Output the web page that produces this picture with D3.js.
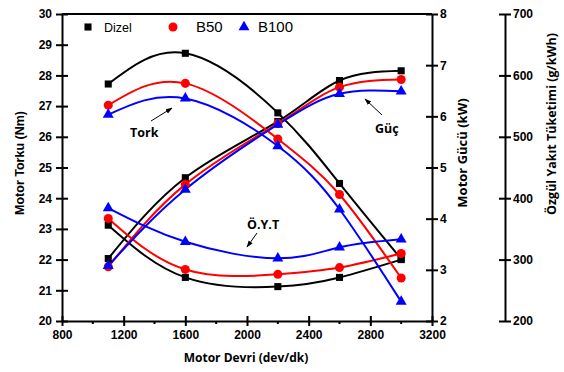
<!DOCTYPE html>
<html><head><meta charset="utf-8">
<script src="https://cdn.jsdelivr.net/npm/d3@7/dist/d3.min.js"></script>
<style>
body{margin:0;background:#fff;}
svg{display:block;}
text{font-family:Arial,"Liberation Sans",sans-serif;}
</style></head>
<body><svg id="c" width="564" height="372"></svg>
<script>
const rpm = [1100, 1600, 2200, 2600, 3000];
const torqueDizel = [27.72, 28.72, 26.78, 24.48, 22.02];
const torqueB50   = [27.03, 27.74, 25.93, 24.12, 21.40];
const torqueB100  = [26.72, 27.25, 25.70, 23.64, 20.63];
const powerDizel = [3.22, 4.80, 5.90, 6.70, 6.89];
const powerB50   = [3.06, 4.67, 5.86, 6.57, 6.72];
const powerB100  = [3.08, 4.57, 5.84, 6.44, 6.49];
const oytDizel = [356, 271, 256, 271, 300];
const oytB50   = [367, 284, 276, 287, 310];
const oytB100  = [384, 329, 302, 320, 333];
const fuels = ["Dizel", "B50", "B100"];
const colors = ["#000000", "#ff0000", "#0000ff"];
const xTicks = [800, 1200, 1600, 2000, 2400, 2800, 3200];
const xMinorTicks = [1000, 1400, 1800, 2200, 2600, 3000];
const torqueTicks = [20, 21, 22, 23, 24, 25, 26, 27, 28, 29, 30];
const powerTicks = [2, 3, 4, 5, 6, 7, 8];
const oytTicks = [200, 300, 400, 500, 600, 700];

const svg = d3.select("#c");
const L = 62, R = 432, T = 14, B = 321;
const x = d3.scaleLinear().domain([800, 3200]).range([L, R]);
const yT = d3.scaleLinear().domain([20, 30]).range([B, T]);
const yP = d3.scaleLinear().domain([2, 8]).range([B, T]);
const yO = d3.scaleLinear().domain([200, 700]).range([B, T]);

const tickFont = 'bold 12px Arial, "Liberation Sans", sans-serif';
function styleAxis(g){
  g.selectAll("path.domain").attr("stroke","#000").attr("stroke-width",2);
  g.selectAll(".tick line").attr("stroke","#000").attr("stroke-width",2);
  g.selectAll(".tick text").style("font", tickFont).attr("fill","#000");
}
// top border
svg.append("line").attr("x1",L).attr("x2",R).attr("y1",T).attr("y2",T).attr("stroke","#000").attr("stroke-width",2);

// bottom axis
const gx = svg.append("g").attr("transform",`translate(0,${B})`)
  .call(d3.axisBottom(x).tickValues(xTicks).tickFormat(d3.format("d")).tickSizeInner(5).tickSizeOuter(0).tickPadding(4));
styleAxis(gx);
gx.selectAll(".tick line").attr("y1",-5);
svg.append("g").attr("transform",`translate(0,${B})`)
  .selectAll("line").data(xMinorTicks).join("line")
  .attr("x1",d=>x(d)).attr("x2",d=>x(d)).attr("y1",0).attr("y2",3)
  .attr("stroke","#000").attr("stroke-width",2);

// left axis
const gyl = svg.append("g").attr("transform",`translate(${L},0)`)
  .call(d3.axisLeft(yT).tickValues(torqueTicks).tickFormat(d3.format("d")).tickSizeInner(6).tickSizeOuter(0).tickPadding(4));
styleAxis(gyl);
gyl.selectAll(".tick line").attr("x1",6);

// right axis power
const gyp = svg.append("g").attr("transform",`translate(${R},0)`)
  .call(d3.axisRight(yP).tickValues(powerTicks).tickFormat(d3.format("d")).tickSizeInner(6).tickSizeOuter(0).tickPadding(2));
styleAxis(gyp);
gyp.selectAll(".tick line").attr("x1",-6);

// far right axis OYT
const OX = 505;
const gyo = svg.append("g").attr("transform",`translate(${OX},0)`)
  .call(d3.axisRight(yO).tickValues(oytTicks).tickFormat(d3.format("d")).tickSizeInner(6).tickSizeOuter(0).tickPadding(2));
styleAxis(gyo);
gyo.selectAll(".tick line").attr("x1",-6);

// axis titles
svg.append("text").attr("transform","translate(24,163) rotate(-90)").attr("text-anchor","middle")
  .style("font",'bold 12.5px Arial, "Liberation Sans", sans-serif').text("Motor Torku (Nm)");
svg.append("text").attr("x",246).attr("y",362).attr("text-anchor","middle")
  .style("font",'bold 12px "Open Sans", sans-serif').text("Motor Devri (dev/dk)");
svg.append("text").attr("transform","translate(467,153) rotate(-90)").attr("text-anchor","middle")
  .style("font",'bold 13px "Open Sans", sans-serif').text("Motor Gücü (kW)");
svg.append("text").attr("transform","translate(556,124) rotate(-90)").attr("text-anchor","middle")
  .style("font",'bold 12.5px "Open Sans", sans-serif').text("Özgül Yakıt Tüketimi (g/kWh)");

// series
const groups = [
  {y: yT, data: [torqueDizel, torqueB50, torqueB100]},
  {y: yP, data: [powerDizel, powerB50, powerB100]},
  {y: yO, data: [oytDizel, oytB50, oytB100]}
];
const symbols = [d3.symbolSquare, d3.symbolCircle, d3.symbolTriangle];
const symSizes = [50, 64, 52];
const plot = svg.append("g");
fuels.forEach((f, fi) => {
  groups.forEach(g => {
    const vals = g.data[fi];
    const pts = rpm.map((r,i)=>[x(r), g.y(vals[i])]);
    plot.append("path").attr("d", d3.line().curve(d3.curveNatural)(pts))
      .attr("fill","none").attr("stroke",colors[fi]).attr("stroke-width",2);
  });
});
fuels.forEach((f, fi) => {
  groups.forEach(g => {
    const vals = g.data[fi];
    plot.append("g").selectAll("path").data(rpm).join("path")
      .attr("transform",(r,i)=>`translate(${x(r)},${g.y(vals[i])})`)
      .attr("d", d3.symbol().type(symbols[fi]).size(symSizes[fi])())
      .attr("fill", colors[fi]);
  });
});

// legend
const leg = svg.append("g");
const legX = [88, 173, 244];
const legTX = [104, 196, 258];
const legFont = ['12.5px Arial, "Liberation Sans", sans-serif','15px Arial, "Liberation Sans", sans-serif','15px Arial, "Liberation Sans", sans-serif'];
fuels.forEach((f, fi) => {
  leg.append("path").attr("transform",`translate(${legX[fi]},27)`)
    .attr("d", d3.symbol().type(symbols[fi]).size(symSizes[fi])()).attr("fill",colors[fi]);
  leg.append("text").attr("x",legTX[fi]).attr("y",32).style("font",legFont[fi]).text(f);
});

// annotations
svg.append("defs").append("marker").attr("id","ah").attr("viewBox","0 0 10 10")
  .attr("refX",9).attr("refY",5).attr("markerWidth",7).attr("markerHeight",7).attr("orient","auto")
  .append("path").attr("d","M0,1.5 L10,5 L0,8.5 Z").attr("fill","#000");
const ann = [
  {t:"Tork", tx:130, ty:137, x1:151, y1:121, x2:172, y2:108},
  {t:"Güç", tx:375, ty:133, x1:382, y1:115, x2:365, y2:99},
  {t:"Ö.Y.T", tx:247, ty:229, x1:257, y1:233, x2:247, y2:247}
];
ann.forEach(a=>{
  svg.append("line").attr("x1",a.x1).attr("y1",a.y1).attr("x2",a.x2).attr("y2",a.y2)
    .attr("stroke","#000").attr("stroke-width",1).attr("marker-end","url(#ah)");
  svg.append("text").attr("x",a.tx).attr("y",a.ty).style("font",'bold 12.5px "Open Sans", sans-serif').text(a.t);
});
</script></body></html>
